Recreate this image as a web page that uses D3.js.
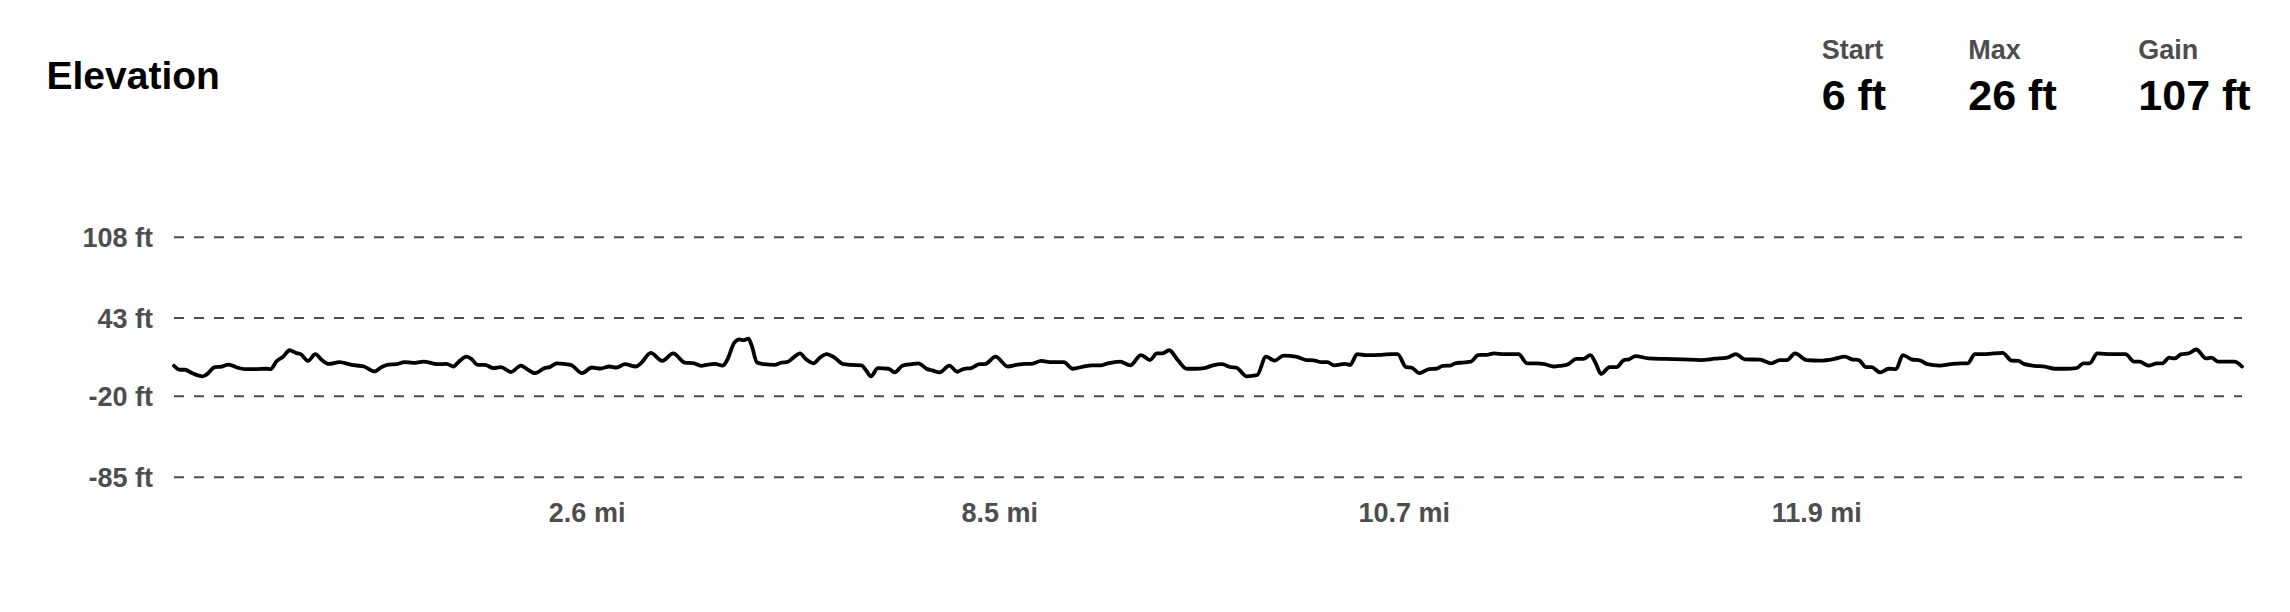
<!DOCTYPE html>
<html>
<head>
<meta charset="utf-8">
<script src="https://cdn.jsdelivr.net/npm/d3@7"></script>
<style>
  html, body { margin: 0; padding: 0; background: #fff; }
  svg { display: block; font-family: "Liberation Sans", Arial, Helvetica, sans-serif; }
</style>
</head>
<body>
<svg id="chart" width="2290" height="612"></svg>
<script>
// ---- data ----
const title = "Elevation";
const statLabels = ["Start", "Max", "Gain"];
const statValues = ["6 ft", "26 ft", "107 ft"];

const yTickValues = [108, 43, -20, -85];
const yTickLabels = ["108 ft", "43 ft", "-20 ft", "-85 ft"];

const xTickIdx = [101, 202, 301, 402];
const xTickLabels = ["2.6 mi", "8.5 mi", "10.7 mi", "11.9 mi"];

const sampleIdx = [
  0, 1.4, 2.7, 4.4, 7.0, 7.9, 10.0, 11.7, 13.4, 15.6, 17.3, 19.9, 22.5, 23.7, 25.0, 26.7, 28.3, 29.8, 31.0, 32.8,
  34.6, 36.2, 37.9, 40.5, 43.5, 46.5, 49.1, 50.8, 52.5, 54.6, 56.4, 58.5, 61.1, 64.5, 66.7, 68.4, 69.7, 71.6, 72.7, 74.4,
  76.1, 78.2, 80.0, 82.5, 84.9, 86.4, 88.4, 90.7, 92.0, 93.7, 97.1, 99.9, 102.3, 104.4, 106.6, 108.3, 110.4, 113.0, 114.3, 116.7,
  119.5, 122.2, 125.0, 127.3, 129.0, 130.7, 132.4, 134.3, 135.4, 137.1, 138.4, 139.3, 140.6, 141.4, 142.7, 144.4, 147.0, 148.7, 150.0, 151.7,
  153.2, 154.7, 156.5, 158.2, 159.7, 161.6, 163.8, 165.9, 168.3, 169.3, 170.6, 172.3, 174.9, 176.4, 178.3, 180.5, 182.2, 184.4, 185.6, 187.4,
  189.8, 191.7, 193.4, 195.1, 197.2, 198.5, 201.1, 204.1, 206.2, 208.4, 209.7, 212.3, 214.8, 217.8, 220.0, 222.6, 224.7, 226.8, 228.6, 231.6,
  234.1, 236.7, 238.9, 240.6, 241.9, 243.6, 245.7, 247.9, 250.0, 252.2, 254.3, 256.5, 258.7, 260.0, 262.6, 265.1, 267.3, 269.4, 271.6, 274.6,
  277.2, 278.9, 281.0, 282.3, 284.0, 286.6, 287.9, 289.6, 291.7, 295.6, 298.2, 299.5, 301.6, 302.9, 304.8, 307.2, 308.9, 310.6, 312.4, 313.6,
  315.4, 317.5, 319.2, 321.4, 323.1, 325.7, 329.1, 331.2, 333.4, 335.5, 337.7, 339.4, 341.1, 343.3, 345.0, 346.7, 348.0, 349.3, 351.4, 353.1,
  354.9, 356.1, 357.8, 360.9, 365.1, 369.4, 373.7, 377.2, 380.2, 382.3, 384.5, 388.2, 391.0, 393.1, 394.8, 396.8, 399.6, 403.0, 406.4, 409.0,
  410.7, 412.4, 414.2, 415.5, 417.6, 419.7, 421.5, 423.2, 425.3, 427.5, 429.2, 432.2, 434.8, 437.3, 439.1, 440.8, 443.4, 447.6, 449.8, 451.5,
  452.8, 455.4, 457.9, 460.5, 463.1, 465.7, 467.4, 468.9, 470.8, 474.3, 477.7, 479.8, 481.1, 483.3, 485.4, 486.7, 488.4, 489.7, 491.4, 493.1,
  495.0, 497.4, 498.7, 500.4, 502.2, 504.3, 506.2
];

const elevationFt = [
  4.2, 1.0, 1.0, -1.7, -4.3, -3.0, 3.1, 3.6, 5.2, 2.6, 1.5, 1.5, 1.8, 1.5, 7.5, 11.5, 16.7, 14.6, 13.6, 8.1,
  13.6, 8.8, 5.7, 7.1, 4.9, 3.6, -0.3, 3.1, 5.2, 5.5, 7.2, 6.5, 7.5, 5.5, 5.7, 3.6, 7.5, 11.5, 9.9, 4.9,
  4.9, 2.3, 3.1, -0.8, 4.4, 1.5, -1.7, 2.3, 3.1, 6.2, 4.9, -1.7, 2.8, 2.0, 3.6, 2.8, 5.5, 3.6, 6.2, 14.6,
  8.1, 14.1, 6.8, 6.2, 4.2, 5.2, 5.7, 4.4, 8.8, 22.5, 25.5, 24.8, 26.0, 20.6, 6.8, 5.5, 4.9, 6.8, 7.1, 11.0,
  14.1, 9.4, 6.2, 11.0, 13.6, 11.0, 5.5, 4.9, 4.6, 1.0, -4.3, 2.3, 1.8, -1.1, 4.2, 5.5, 6.2, 1.5, 0.5, -1.1,
  4.4, -0.6, 1.8, 2.3, 5.5, 5.5, 11.5, 3.6, 4.9, 5.7, 5.7, 8.1, 7.1, 7.1, 1.8, 3.6, 4.6, 4.6, 6.2, 7.5,
  4.6, 12.8, 8.8, 14.1, 14.1, 16.7, 8.8, 1.8, 1.8, 2.3, 4.6, 5.5, 3.1, 2.8, -4.3, -3.4, 11.5, 8.4, 12.3, 11.5,
  8.8, 8.6, 7.1, 7.1, 4.6, 5.7, 4.9, 13.6, 12.8, 13.0, 13.6, 13.6, 3.1, 2.8, -1.7, 1.5, 1.8, 4.2, 4.4, 6.2,
  6.8, 7.5, 12.8, 13.0, 14.1, 13.6, 13.6, 6.2, 6.2, 5.5, 3.6, 4.2, 5.2, 9.7, 9.7, 12.8, 6.2, -2.4, 3.1, 3.1,
  8.8, 9.4, 12.0, 10.1, 9.7, 9.4, 8.8, 9.9, 10.7, 13.6, 9.4, 9.1, 6.2, 8.8, 8.8, 14.1, 8.8, 8.4, 9.7, 11.5,
  9.4, 8.8, 3.1, 3.1, -1.1, 1.8, 1.5, 12.8, 9.4, 8.4, 5.5, 4.4, 5.5, 6.2, 6.2, 13.6, 13.6, 14.6, 8.4, 8.1,
  5.7, 4.2, 3.6, 1.8, 1.8, 2.3, 6.2, 6.2, 14.1, 13.6, 13.6, 7.5, 7.5, 4.4, 6.2, 6.2, 10.7, 10.1, 13.6, 14.1,
  17.3, 10.1, 10.7, 7.5, 7.5, 7.5, 3.6
];

// ---- chart ----
const svg = d3.select("#chart");
const margin = { left: 174, right: 2290 - 2242, top: 236.7, bottom: 612 - 476.7 };
const W = 2290, H = 612;

const x = d3.scaleLinear()
  .domain([0, d3.max(sampleIdx)])
  .range([margin.left, W - margin.right]);
const y = d3.scaleLinear()
  .domain([d3.min(yTickValues), d3.max(yTickValues)])
  .range([H - margin.bottom, margin.top]);

// title
svg.append("text")
  .attr("x", 46.5).attr("y", 89.3)
  .attr("font-size", 39).attr("font-weight", 700).attr("fill", "#000")
  .text(title);

// stats
const statX = [1821.7, 1968.3, 2138.3];
statLabels.forEach((lab, i) => {
  svg.append("text")
    .attr("x", statX[i]).attr("y", 59.3)
    .attr("font-size", 27).attr("font-weight", 700).attr("fill", "#4d4d4d")
    .text(lab);
  svg.append("text")
    .attr("x", statX[i]).attr("y", 110)
    .attr("font-size", 43).attr("font-weight", 700).attr("fill", "#000")
    .text(statValues[i]);
});

// y axis (gridlines + labels)
const yAxis = d3.axisLeft(y)
  .tickValues(yTickValues)
  .tickSize(-(W - margin.left - margin.right))
  .tickPadding(21)
  .tickFormat((d, i) => yTickLabels[i]);
const gy = svg.append("g")
  .attr("transform", `translate(${margin.left},0)`)
  .call(yAxis);
gy.select(".domain").remove();
gy.selectAll(".tick line")
  .attr("stroke", "#4d4d4d")
  .attr("stroke-width", 2)
  .attr("stroke-dasharray", "10,10");
gy.selectAll(".tick text")
  .attr("font-family", "'Liberation Sans', Arial, Helvetica, sans-serif")
  .attr("font-size", 27).attr("font-weight", 700).attr("fill", "#4d4d4d")
  .attr("dy", "0.36em");

// x axis labels
const xAxis = d3.axisBottom(x)
  .tickValues(xTickIdx)
  .tickSize(0)
  .tickPadding(0)
  .tickFormat((d, i) => xTickLabels[i]);
const gx = svg.append("g")
  .attr("transform", `translate(0,${H - margin.bottom})`)
  .call(xAxis);
gx.select(".domain").remove();
gx.selectAll(".tick text")
  .attr("font-family", "'Liberation Sans', Arial, Helvetica, sans-serif")
  .attr("font-size", 27).attr("font-weight", 700).attr("fill", "#4d4d4d")
  .attr("dy", null)
  .attr("y", 522.5 - (H - margin.bottom));

// elevation line
const pts = sampleIdx.map((d, i) => [d, elevationFt[i]]);
const line = d3.line()
  .x(d => x(d[0]))
  .y(d => y(d[1]))
  .curve(d3.curveMonotoneX);
svg.append("path")
  .datum(pts)
  .attr("fill", "none")
  .attr("stroke", "#000")
  .attr("stroke-width", 3.8)
  .attr("stroke-linejoin", "round")
  .attr("stroke-linecap", "round")
  .attr("d", line);
</script>
</body>
</html>
